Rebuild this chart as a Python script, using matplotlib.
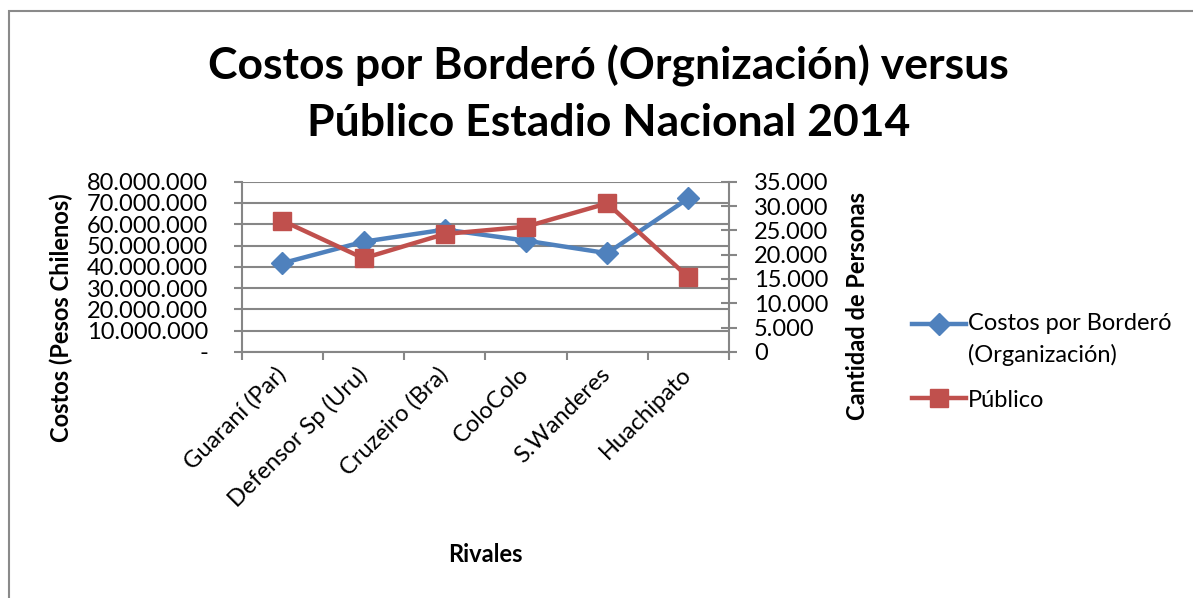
import matplotlib
matplotlib.use('Agg')
import matplotlib.pyplot as plt
from matplotlib.legend_handler import HandlerLine2D
from matplotlib.patches import Rectangle
from matplotlib.ticker import FixedLocator, FuncFormatter, MultipleLocator

rivales = ['Guaraní (Par)', 'Defensor Sp (Uru)', 'Cruzeiro (Bra)',
           'ColoColo', 'S.Wanderes', 'Huachipato']
costos = [41700000, 51800000, 57500000, 52300000, 46400000, 72200000]
publico = [27000, 19250, 24250, 25750, 30550, 15350]

plt.rcParams['font.family'] = ['Lato', 'DejaVu Sans']

blue = '#4F81BD'
red = '#C0504D'
grid = '#868686'
fs = 17


def miles(v):
    return '{:,.0f}'.format(v).replace(',', '.')


class FirstLineHandler(HandlerLine2D):
    # legend key sits on the first line of a two-line label, like Excel
    def create_artists(self, legend, orig_handle, xdescent, ydescent, width,
                       height, fontsize, trans):
        arts = super().create_artists(legend, orig_handle, xdescent, ydescent,
                                      width, height, fontsize, trans)
        for a in arts:
            a.set_ydata([y + fontsize * 0.68 for y in a.get_ydata()])
        return arts


fig = plt.figure(figsize=(11.93, 5.98), dpi=100)
fig.patches.append(Rectangle((0.0075, -0.1), 1.2, 1.082, transform=fig.transFigure,
                             fill=False, edgecolor='#8a8a8a', lw=1.5))

ax = fig.add_axes([0.2026, 0.4114, 0.4085, 0.2848])
ax2 = ax.twinx()

x = list(range(len(rivales)))
l1, = ax.plot(x, costos, color=blue, lw=3.2, marker='D', ms=11, mfc=blue, mec=blue,
              label='Costos por Borderó\n(Organización)', zorder=3)
l2, = ax2.plot(x, publico, color=red, lw=3.2, marker='s', ms=13, mfc=red, mec=red,
               label='Público', zorder=3)

ax.set_xlim(-0.5, len(rivales) - 0.5)
ax.set_ylim(0, 80000000)
ax2.set_ylim(0, 35000)
ax.yaxis.set_major_locator(MultipleLocator(10000000))
ax2.yaxis.set_major_locator(MultipleLocator(5000))
ax.yaxis.set_major_formatter(FuncFormatter(lambda v, p: '-' if v == 0 else miles(v)))
ax2.yaxis.set_major_formatter(FuncFormatter(lambda v, p: miles(v)))
ax.grid(axis='y', color=grid, lw=1.5)
ax.set_axisbelow(True)

ax.xaxis.set_major_locator(FixedLocator([i - 0.5 for i in range(len(rivales) + 1)]))
ax.xaxis.set_minor_locator(FixedLocator(x))
ax.set_xticklabels([])
ax.set_xticklabels(rivales, minor=True, rotation=45, ha='right', va='center',
                   rotation_mode='anchor', fontsize=fs)
ax.tick_params(axis='x', which='minor', length=0, pad=14)
ax.tick_params(axis='x', which='major', length=6, width=1.5, color=grid)
ax.tick_params(axis='y', length=6, width=1.5, color=grid, labelsize=fs, pad=18)
ax2.tick_params(axis='y', direction='inout', length=12, width=1.5, color=grid,
                labelsize=fs, pad=12)

for a in (ax, ax2):
    for s in a.spines.values():
        s.set_visible(False)
ax.spines['left'].set_visible(True)
ax.spines['bottom'].set_visible(True)
ax2.spines['right'].set_visible(True)
for s in (ax.spines['left'], ax.spines['bottom'], ax2.spines['right']):
    s.set_color(grid)
    s.set_linewidth(1.5)

ax.set_ylabel('Costos (Pesos Chilenos)', fontsize=fs, fontweight='bold')
ax2.set_ylabel('Cantidad de Personas', fontsize=fs, fontweight='bold')
ax.yaxis.set_label_coords(-0.347, 0.2)
ax2.yaxis.set_label_coords(1.24, 0.27)
fig.text(0.407, 0.072, 'Rivales', ha='center', va='center', fontsize=fs,
         fontweight='bold')

fig.text(0.51, 0.843, 'Costos por Borderó (Orgnización) versus\nPúblico Estadio Nacional 2014',
         ha='center', va='center', fontsize=32, fontweight='bold', linespacing=1.5)

leg = fig.legend([l1, l2], [l1.get_label(), l2.get_label()], loc='center left',
                 bbox_to_anchor=(0.747, 0.395), frameon=False, fontsize=fs,
                 handlelength=2.25, handletextpad=0.1, labelspacing=1.0,
                 handler_map={l1: FirstLineHandler()})
leg.get_texts()[0].set_linespacing(1.55)

fig.savefig('out.png', dpi=100)
